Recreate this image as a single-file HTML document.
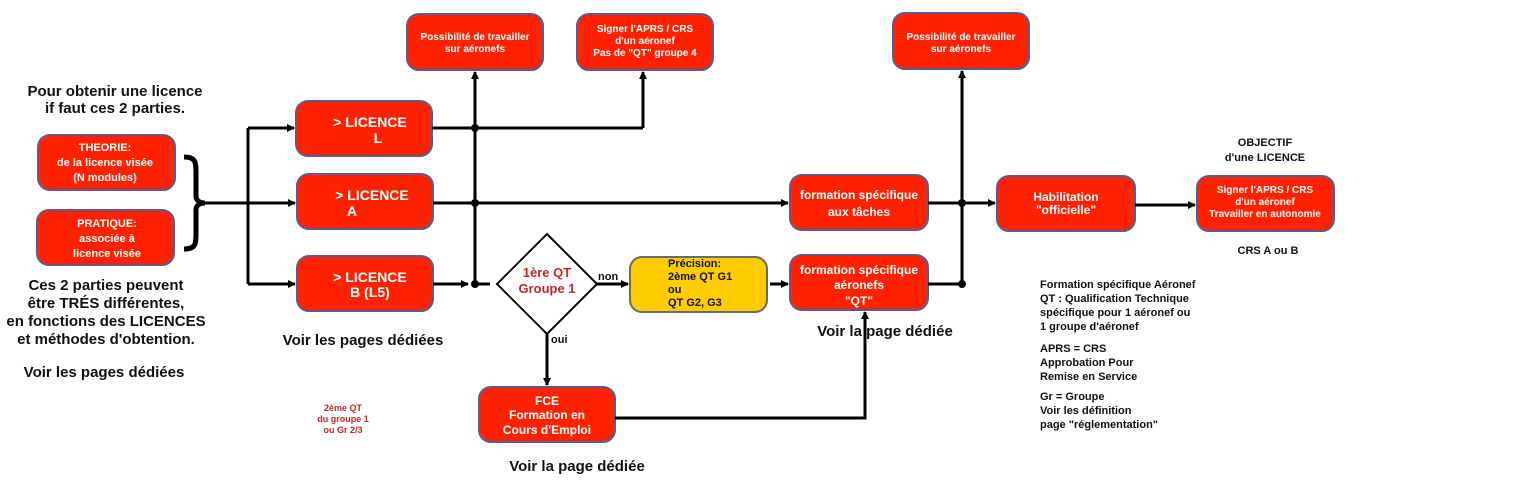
<!DOCTYPE html>
<html><head><meta charset="utf-8"><style>
html,body{margin:0;padding:0;background:#fff;}
svg{display:block;}
text{font-family:"Liberation Sans",sans-serif;font-weight:bold;}
.w{fill:#fff;}
.b{fill:#111;}
</style></head><body>
<svg width="1536" height="487" viewBox="0 0 1536 487" xmlns="http://www.w3.org/2000/svg">
<defs><marker id="a" markerWidth="8" markerHeight="8" refX="7" refY="4" orient="auto" markerUnits="userSpaceOnUse"><path d="M0,0 L8,4 L0,8 z" fill="#000"/></marker></defs>
<g fill="#ff2200" stroke="#5b5b8f" stroke-width="2">
<rect x="407" y="14" width="136" height="56" rx="12"/>
<rect x="577" y="14" width="136" height="56" rx="12"/>
<rect x="893" y="13" width="136" height="56" rx="12"/>
<rect x="296" y="101" width="136" height="55" rx="12"/>
<rect x="297" y="174" width="136" height="55" rx="12"/>
<rect x="297" y="256" width="136" height="55" rx="12"/>
<rect x="38" y="135" width="137" height="55" rx="12"/>
<rect x="37" y="210" width="137" height="55" rx="12"/>
<rect x="790" y="175" width="138" height="55" rx="12"/>
<rect x="790" y="255" width="138" height="55" rx="12"/>
<rect x="997" y="176" width="138" height="55" rx="12"/>
<rect x="1197" y="176" width="137" height="55" rx="12"/>
<rect x="479" y="387" width="136" height="55" rx="12"/>
</g>
<rect x="630" y="257" width="137" height="55" rx="12" fill="#ffcc00" stroke="#6a6a6a" stroke-width="2"/>
<path d="M547,234 L597,284 L547,334 L497,284 Z" fill="#fff" stroke="#000" stroke-width="2"/>
<g stroke="#000" stroke-width="3" fill="none">
<path d="M184,157 C196,157 196,162 196,175 L196,196 C196,201 200,203 205,203 C200,203 196,205 196,210 L196,232 C196,244 196,249 184,249" stroke-width="5"/>
<line x1="205" y1="203" x2="248" y2="203"/>
<line x1="248" y1="128" x2="248" y2="284"/>
<line x1="248" y1="128" x2="294" y2="128" marker-end="url(#a)"/>
<line x1="248" y1="203" x2="295" y2="203" marker-end="url(#a)"/>
<line x1="248" y1="284" x2="295" y2="284" marker-end="url(#a)"/>
<line x1="432" y1="128" x2="643" y2="128"/>
<line x1="643" y1="128" x2="643" y2="72" marker-end="url(#a)"/>
<line x1="475" y1="284" x2="475" y2="72" marker-end="url(#a)"/>
<line x1="433" y1="203" x2="788" y2="203" marker-end="url(#a)"/>
<line x1="433" y1="284" x2="468" y2="284" marker-end="url(#a)"/>
<line x1="475" y1="284" x2="490" y2="284"/>
<line x1="597" y1="284" x2="628" y2="284" marker-end="url(#a)"/>
<line x1="770" y1="284" x2="788" y2="284" marker-end="url(#a)"/>
<line x1="928" y1="284" x2="962" y2="284"/>
<line x1="962" y1="284" x2="962" y2="71" marker-end="url(#a)"/>
<line x1="928" y1="203" x2="995" y2="203" marker-end="url(#a)"/>
<line x1="1135" y1="205" x2="1195" y2="205" marker-end="url(#a)"/>
<line x1="547" y1="334" x2="547" y2="385" marker-end="url(#a)"/>
<polyline points="615,418 865,418 865,312" marker-end="url(#a)"/>
</g>
<g fill="#000"><circle cx="475" cy="128" r="4"/><circle cx="475" cy="203" r="4"/><circle cx="475" cy="284" r="4"/><circle cx="962" cy="203" r="4"/><circle cx="962" cy="284" r="4"/></g>
<g text-anchor="middle" class="w" font-size="10">
<text x="475" y="40" class="w">Possibilité de travailler</text><text x="475" y="52" class="w">sur aéronefs</text>
<text x="645" y="32" class="w">Signer l'APRS / CRS</text><text x="645" y="44" class="w">d'un aéronef</text><text x="645" y="56" class="w">Pas de "QT" groupe 4</text>
<text x="961" y="40" class="w">Possibilité de travailler</text><text x="961" y="52" class="w">sur aéronefs</text>
</g>
<g text-anchor="middle" font-size="14">
<text x="370" y="127" class="w">&gt; LICENCE</text><text x="378" y="143" class="w">L</text>
<text x="372" y="200" class="w">&gt; LICENCE</text><text x="352" y="216" class="w">A</text>
<text x="370" y="282" class="w">&gt; LICENCE</text><text x="370" y="297" class="w">B (L5)</text>
</g>
<g text-anchor="middle" font-size="11">
<text x="105" y="151" class="w">THEORIE:</text><text x="105" y="166" class="w">de la licence visée</text><text x="105" y="181" class="w">(N modules)</text>
<text x="107" y="227" class="w">PRATIQUE:</text><text x="107" y="242" class="w">associée à</text><text x="107" y="257" class="w">licence visée</text>
<text x="859" y="199" class="w" font-size="12">formation spécifique</text><text x="859" y="216" class="w" font-size="12">aux tâches</text>
<text x="859" y="274" class="w" font-size="12">formation spécifique</text><text x="859" y="289" class="w" font-size="12">aéronefs</text><text x="859" y="305" class="w" font-size="12">"QT"</text>
<text x="1066" y="201" class="w" font-size="12">Habilitation</text><text x="1066" y="214" class="w" font-size="12">"officielle"</text>
<text x="1265" y="193" class="w" font-size="10">Signer l'APRS / CRS</text><text x="1265" y="205" class="w" font-size="10">d'un aéronef</text><text x="1265" y="217" class="w" font-size="10">Travailler en autonomie</text>
<text x="547" y="405" class="w" font-size="12">FCE</text><text x="547" y="419" class="w" font-size="12">Formation en</text><text x="547" y="434" class="w" font-size="12">Cours d'Emploi</text>
<text x="547" y="277" fill="#c0282a" font-size="13">1ère QT</text><text x="547" y="293" fill="#c0282a" font-size="13">Groupe 1</text>
<text x="1265" y="146" class="b" font-size="11">OBJECTIF</text><text x="1265" y="161" class="b" font-size="11">d'une LICENCE</text>
<text x="1268" y="254" class="b" font-size="11">CRS A ou B</text>
<text x="343" y="411" fill="#c0282a" font-size="9">2ème QT</text><text x="343" y="422" fill="#c0282a" font-size="9">du groupe 1</text><text x="343" y="433" fill="#c0282a" font-size="9">ou Gr 2/3</text>
</g>
<g font-size="11" class="b">
<text x="668" y="267">Précision:</text><text x="668" y="280">2ème QT G1</text><text x="668" y="293">ou</text><text x="668" y="306">QT G2, G3</text>
<text x="598" y="280">non</text><text x="551" y="343">oui</text>
<text x="1040" y="288">Formation spécifique Aéronef</text><text x="1040" y="302">QT : Qualification Technique</text><text x="1040" y="316">spécifique pour 1 aéronef ou</text><text x="1040" y="330">1 groupe d'aéronef</text>
<text x="1040" y="352">APRS = CRS</text><text x="1040" y="366">Approbation Pour</text><text x="1040" y="380">Remise en Service</text>
<text x="1040" y="400">Gr = Groupe</text><text x="1040" y="414">Voir les définition</text><text x="1040" y="428">page "réglementation"</text>
</g>
<g text-anchor="middle" font-size="15" class="b">
<text x="115" y="96">Pour obtenir une licence</text><text x="115" y="113">if faut ces 2 parties.</text>
<text x="106" y="290">Ces 2 parties peuvent</text><text x="106" y="308">être TRÉS différentes,</text><text x="106" y="326">en fonctions des LICENCES</text><text x="106" y="344">et méthodes d'obtention.</text>
<text x="104" y="377">Voir les pages dédiées</text>
<text x="363" y="345" font-size="15">Voir les pages dédiées</text>
<text x="885" y="336">Voir la page dédiée</text>
<text x="577" y="471">Voir la page dédiée</text>
</g>
</svg>
</body></html>
